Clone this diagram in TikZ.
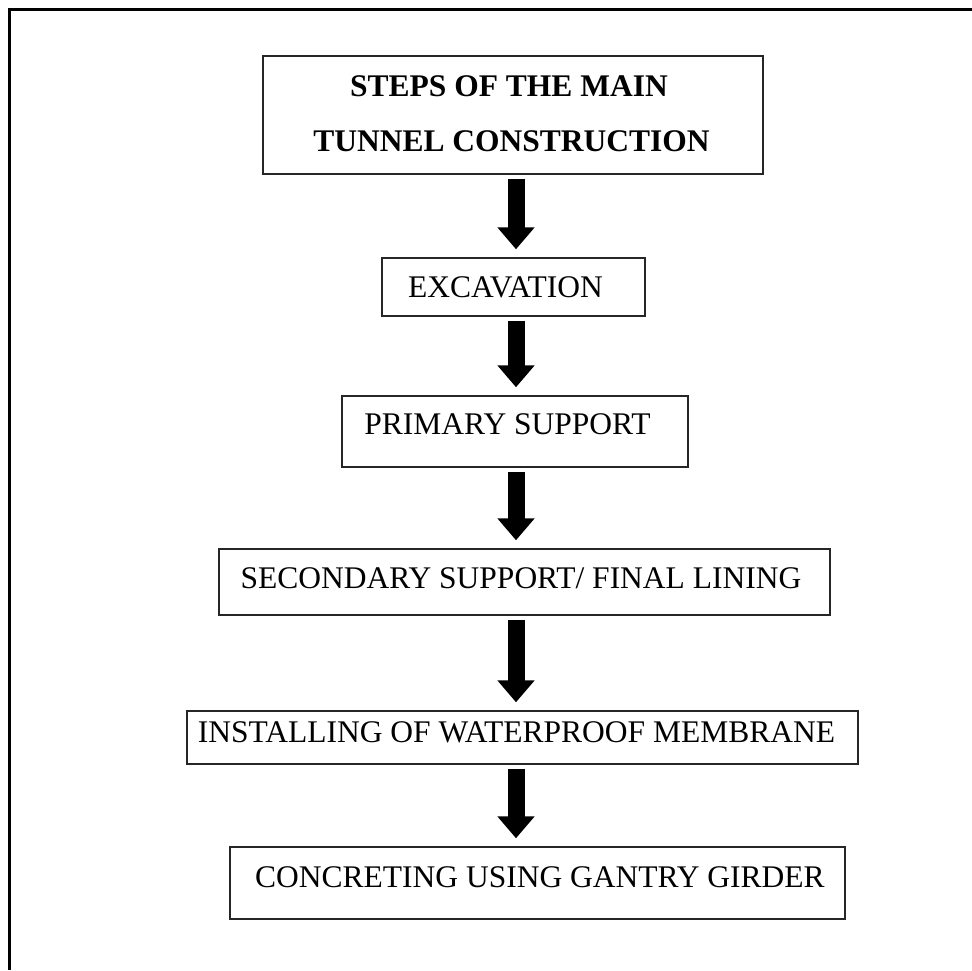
\documentclass[tikz,border=0pt]{standalone}
\usepackage{fontspec}
\setmainfont{Liberation Serif}
\usetikzlibrary{arrows.meta}
\begin{document}
\begin{tikzpicture}[x=1pt,y=-1pt,
  stepbox/.style={draw=black!85, line width=1.4pt, inner sep=0pt, fill=none},
  steptext/.style={anchor=base, inner sep=0pt, font=\fontsize{31.5}{38}\selectfont},
  titletext/.style={anchor=base, inner sep=0pt, font=\fontsize{31.5}{38}\selectfont\bfseries},
  fatarrow/.style={line width=17pt, -{Triangle[length=22pt 0 0, width=36pt 0 0]}, shorten <=4pt, shorten >=8pt}]
\useasboundingbox (0,0) rectangle (972,970);
% frame (only top and left edges fall in the picture)
\draw[line width=3pt] (9,970) -- (9,9) -- (972,9);
% boxes
\node[stepbox, minimum width=500pt, minimum height=118pt] (t) at (513,115) {};
\node[stepbox, minimum width=263pt, minimum height=58pt] (e) at (513.5,287) {};
\node[stepbox, minimum width=346pt, minimum height=71pt] (p) at (515,431.5) {};
\node[stepbox, minimum width=611pt, minimum height=66pt] (s) at (524.5,582) {};
\node[stepbox, minimum width=671pt, minimum height=53pt] (i) at (522.5,737.5) {};
\node[stepbox, minimum width=615pt, minimum height=72pt] (c) at (537.5,883) {};
% texts
\node[titletext] (t1) at (509,96) {STEPS OF THE MAIN};
\node[titletext] (t2) at (511.5,151) {TUNNEL CONSTRUCTION};
\node[steptext] (et) at (505.5,297) {EXCAVATION};
\node[steptext] (pt) at (507.5,434) {PRIMARY SUPPORT};
\node[steptext] (st) at (521,588) {SECONDARY SUPPORT/ FINAL LINING};
\node[steptext] (it) at (516.5,742) {INSTALLING OF WATERPROOF MEMBRANE};
\node[steptext] (ct) at (540,887) {CONCRETING USING GANTRY GIRDER};
% arrows
\coordinate (ax) at (516,0);
\draw[fatarrow] (t.south -| ax) -- (e.north -| ax);
\draw[fatarrow] (e.south -| ax) -- (p.north -| ax);
\draw[fatarrow] (p.south -| ax) -- (s.north -| ax);
\draw[fatarrow] (s.south -| ax) -- (i.north -| ax);
\draw[fatarrow] (i.south -| ax) -- (c.north -| ax);
\end{tikzpicture}
\end{document}
